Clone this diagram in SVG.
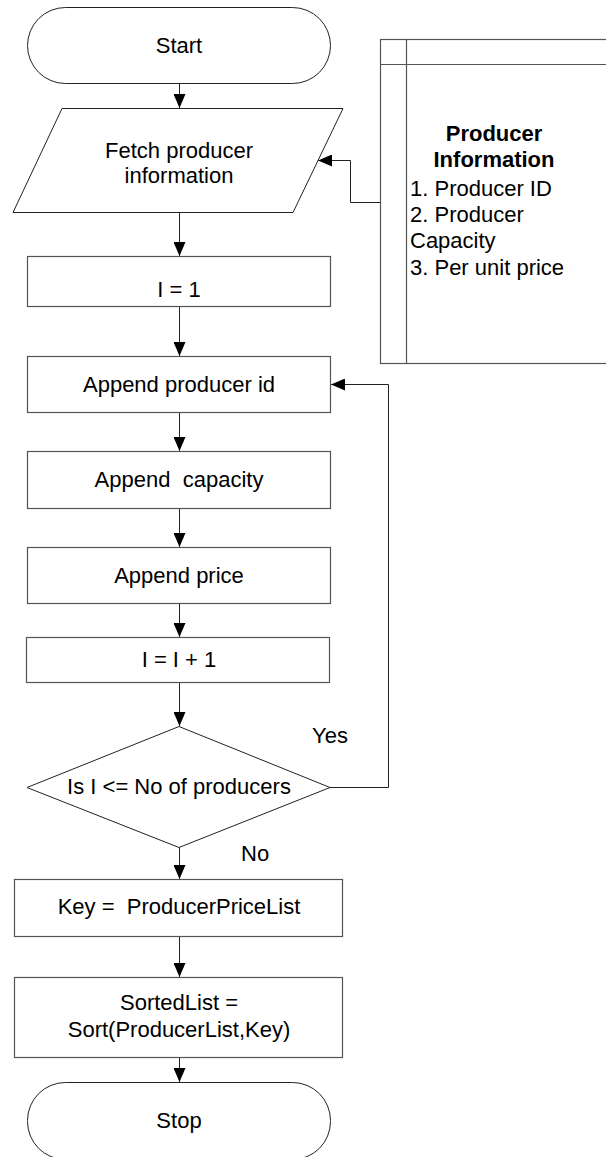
<svg xmlns="http://www.w3.org/2000/svg" width="606" height="1157" viewBox="0 0 606 1157">
<defs>
<marker id="arr" markerUnits="userSpaceOnUse" markerWidth="14" markerHeight="12" refX="14" refY="6" orient="auto">
<path d="M0,0 L14,6 L0,12 z" fill="#000"/>
</marker>
<style>
.s{fill:#fff;stroke:#555;stroke-width:1.2}
.d{fill:#fff;stroke:#222;stroke-width:1}
.c{fill:none;stroke:#222;stroke-width:1}
.t{font-family:"Liberation Sans",Arial,sans-serif;font-size:22px;fill:#000;text-anchor:middle}
.l{font-family:"Liberation Sans",Arial,sans-serif;font-size:22px;fill:#000}
.b{font-weight:bold}
</style>
</defs>
<rect width="606" height="1157" fill="#fff"/>
<g id="connectors">
<line class="c" x1="179.5" y1="83" x2="179.5" y2="108" marker-end="url(#arr)"/>
<line class="c" x1="179.5" y1="212" x2="179.5" y2="256" marker-end="url(#arr)"/>
<line class="c" x1="179.5" y1="306" x2="179.5" y2="356" marker-end="url(#arr)"/>
<line class="c" x1="179.5" y1="412" x2="179.5" y2="451" marker-end="url(#arr)"/>
<line class="c" x1="179.5" y1="508" x2="179.5" y2="547" marker-end="url(#arr)"/>
<line class="c" x1="179.5" y1="603" x2="179.5" y2="637" marker-end="url(#arr)"/>
<line class="c" x1="179.5" y1="682" x2="179.5" y2="726" marker-end="url(#arr)"/>
<line class="c" x1="179.5" y1="847" x2="179.5" y2="879" marker-end="url(#arr)"/>
<line class="c" x1="179.5" y1="936" x2="179.5" y2="977" marker-end="url(#arr)"/>
<line class="c" x1="179.5" y1="1057" x2="179.5" y2="1082" marker-end="url(#arr)"/>
<polyline class="c" points="380,202.5 350.5,202.5 350.5,160.5 318,160.5" marker-end="url(#arr)"/>
<polyline class="c" points="330,787.5 388.5,787.5 388.5,384.5 331,384.5" marker-end="url(#arr)"/>
<text class="l" x="312" y="743">Yes</text>
<text class="l" x="241" y="861">No</text>
</g>
<g id="start">
<rect class="d" x="27.5" y="7.5" width="303" height="76" rx="38" ry="38"/>
<text class="t" x="179" y="53">Start</text>
</g>
<g id="fetch">
<polygon class="d" points="62,108.5 343,108.5 293,212.5 13,212.5"/>
<text class="t" x="179" y="158">Fetch producer</text>
<text class="t" x="179" y="183">information</text>
</g>
<g id="info">
<rect class="s" x="380.5" y="39.5" width="240" height="324"/>
<line class="s" x1="406.5" y1="39.5" x2="406.5" y2="363.5"/>
<line class="s" x1="380.5" y1="64.5" x2="606" y2="64.5"/>
<text class="t b" x="494" y="141">Producer</text>
<text class="t b" x="494" y="167">Information</text>
<text class="l" x="410" y="196">1. Producer ID</text>
<text class="l" x="410" y="222">2. Producer</text>
<text class="l" x="410" y="248">Capacity</text>
<text class="l" x="410" y="275">3. Per unit price</text>
</g>
<g id="i1">
<rect class="s" x="27.5" y="256.5" width="303" height="50"/>
<text class="t" x="179" y="297">I = 1</text>
</g>
<g id="appendId">
<rect class="s" x="27.5" y="356.5" width="303" height="56"/>
<text class="t" x="179" y="392">Append producer id</text>
</g>
<g id="appendCap">
<rect class="s" x="27.5" y="451.5" width="303" height="57"/>
<text class="t" x="179" y="487" xml:space="preserve">Append  capacity</text>
</g>
<g id="appendPrice">
<rect class="s" x="27.5" y="547.5" width="303" height="56"/>
<text class="t" x="179" y="583">Append price</text>
</g>
<g id="incr">
<rect class="s" x="26.5" y="637.5" width="303" height="45"/>
<text class="t" x="179" y="667">I = I + 1</text>
</g>
<g id="decision">
<polygon class="d" points="179,726.5 330,787.5 179,847.5 27,787.5"/>
<text class="t" x="179" y="794">Is I &lt;= No of producers</text>
</g>
<g id="key">
<rect class="s" x="14.5" y="879.5" width="328" height="57"/>
<text class="t" x="179" y="914" xml:space="preserve">Key =  ProducerPriceList</text>
</g>
<g id="sorted">
<rect class="s" x="14.5" y="977.5" width="328" height="80"/>
<text class="t" x="179" y="1010">SortedList =</text>
<text class="t" x="179" y="1037">Sort(ProducerList,Key)</text>
</g>
<g id="stop">
<rect class="d" x="27.5" y="1082.5" width="303" height="77" rx="38" ry="38"/>
<text class="t" x="179" y="1128">Stop</text>
</g>
</svg>
